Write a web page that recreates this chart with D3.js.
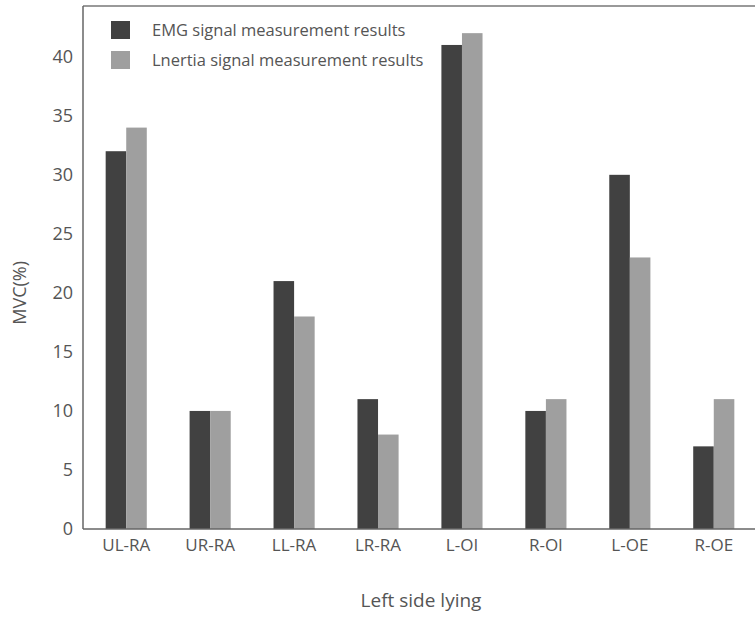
<!DOCTYPE html>
<html>
<head>
<meta charset="utf-8">
<script src="https://cdn.jsdelivr.net/npm/d3@7"></script>
<style>
    body { margin: 0; background: #fff; }
    svg text { font-family: "Open Sans", "Noto Sans", sans-serif; fill: #555; }
</style>
</head>
<body>
<svg id="chart" width="755" height="617"></svg>
<script>
(function() {
    'use strict';

    var categories = ['UL-RA', 'UR-RA', 'LL-RA', 'LR-RA', 'L-OI', 'R-OI', 'L-OE', 'R-OE'];
    var seriesNames = ['EMG signal measurement results', 'Lnertia signal measurement results'];
    var emgValues = [32, 10, 21, 11, 41, 10, 30, 7];
    var inertiaValues = [34, 10, 18, 8, 42, 11, 23, 11];
    var yTicks = [0, 5, 10, 15, 20, 25, 30, 35, 40];

    var colors = ['#414141', '#9f9f9f'];
    var svg = d3.select('#chart');

    var left = 83, right = 757, top = 6, bottom = 529;

    var x0 = d3.scaleBand()
        .domain(categories)
        .range([left, right])
        .paddingInner(0.51)
        .paddingOuter(0.27);

    var x1 = d3.scaleBand()
        .domain([0, 1])
        .range([0, x0.bandwidth()]);

    var y = d3.scaleLinear()
        .domain([0, 44.3])
        .range([bottom, top]);

    var rows = categories.map(function(c, i) {
        return { cat: c, values: [emgValues[i], inertiaValues[i]] };
    });

    // bars
    svg.append('g')
        .selectAll('g')
        .data(rows)
        .enter().append('g')
        .attr('transform', function(d) { return 'translate(' + x0(d.cat) + ',0)'; })
        .selectAll('rect')
        .data(function(d) { return d.values.map(function(v, k) { return { k: k, v: v }; }); })
        .enter().append('rect')
        .attr('x', function(d) { return x1(d.k); })
        .attr('y', function(d) { return y(d.v); })
        .attr('width', x1.bandwidth())
        .attr('height', function(d) { return bottom - y(d.v); })
        .attr('fill', function(d) { return colors[d.k]; });

    // frame: left, top, bottom
    svg.append('line')
        .attr('x1', left).attr('x2', 755).attr('y1', top).attr('y2', top)
        .attr('stroke', '#777').attr('stroke-width', 1.5);

    var yAxis = svg.append('g')
        .attr('transform', 'translate(' + left + ',0)')
        .call(d3.axisLeft(y).tickValues(yTicks).tickSize(0).tickPadding(10));
    yAxis.select('.domain').attr('stroke', '#666').attr('stroke-width', 1.5)
        .attr('d', 'M0,' + top + 'V' + bottom);
    yAxis.selectAll('text').style('font-size', '18px');

    var xAxis = svg.append('g')
        .attr('transform', 'translate(0,' + bottom + ')')
        .call(d3.axisBottom(x0).tickSize(0).tickPadding(10));
    xAxis.select('.domain').attr('stroke', '#666').attr('stroke-width', 1.5)
        .attr('d', 'M' + left + ',0H755');
    xAxis.selectAll('text').style('font-size', '17px');

    // axis titles
    svg.append('text')
        .attr('x', 421).attr('y', 607)
        .attr('text-anchor', 'middle')
        .style('font-size', '19px')
        .text('Left side lying');

    svg.append('text')
        .attr('transform', 'translate(26,' + y(20) + ') rotate(-90)')
        .attr('text-anchor', 'middle')
        .style('font-size', '18px')
        .text('MVC(%)');

    // legend
    var legend = svg.append('g')
        .selectAll('g')
        .data(seriesNames)
        .enter().append('g')
        .attr('transform', function(d, i) { return 'translate(111,' + (21 + i * 30) + ')'; });

    legend.append('rect')
        .attr('width', 19).attr('height', 18)
        .attr('fill', function(d, i) { return colors[i]; });

    legend.append('text')
        .attr('x', 41).attr('y', 15)
        .style('font-size', '16.5px')
        .text(function(d) { return d; });
}());
</script>
</body>
</html>
